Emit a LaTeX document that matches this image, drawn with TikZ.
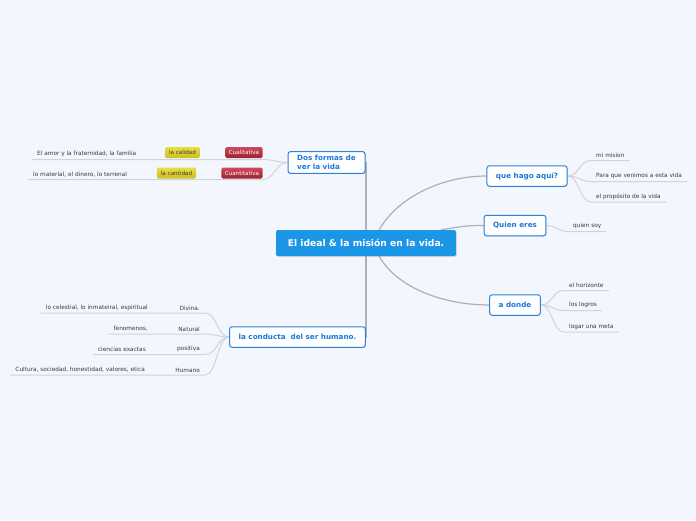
\documentclass[tikz,border=0pt]{standalone}
\usepackage{fontspec}
\setmainfont{DejaVu Sans}
\usepackage{tikz}
\usetikzlibrary{shadows,backgrounds}
\definecolor{bgblue}{HTML}{F3F6FD}
\definecolor{ideablue}{HTML}{1B96E6}
\definecolor{boxblue}{HTML}{2A82DA}
\definecolor{textblue}{HTML}{1A78D6}
\definecolor{linkgray}{HTML}{ABB0BB}
\definecolor{linegray}{HTML}{CFD3DB}
\definecolor{leaftext}{HTML}{3A3A3A}
\definecolor{redtop}{HTML}{CC4A5C}
\definecolor{redbottom}{HTML}{A21F31}
\definecolor{yellowtop}{HTML}{E9DE45}
\definecolor{yellowbottom}{HTML}{CDBE1E}

\begin{document}
\begin{tikzpicture}[x=1pt, y=-1pt,
    central/.style={fill=ideablue, rounded corners=1.5pt, text=white,
        font=\fontsize{9.2}{11}\selectfont\bfseries, minimum width=180pt, minimum height=26pt,
        drop shadow={shadow xshift=0.6pt, shadow yshift=-0.8pt, opacity=0.25}},
    branch/.style={draw=boxblue, line width=1pt, fill=white, rounded corners=2.5pt, text=textblue,
        font=\fontsize{7.2}{9.6}\selectfont\bfseries, inner xsep=9pt, minimum height=20.5pt,
        drop shadow={shadow xshift=0.6pt, shadow yshift=-0.8pt, opacity=0.25}},
    leaf/.style={text=leaftext, font=\fontsize{5.8}{7}\selectfont, inner xsep=5pt, inner ysep=2.5pt},
    redtag/.style={top color=redtop, bottom color=redbottom, text=white,
        rounded corners=1.5pt, font=\fontsize{5.6}{7}\selectfont, inner xsep=3.5pt, minimum height=11pt},
    yellowtag/.style={top color=yellowtop, bottom color=yellowbottom, text=leaftext,
        rounded corners=1.5pt, font=\fontsize{5.6}{7}\selectfont, inner xsep=4pt, minimum height=11pt},
    link/.style={draw=linkgray, line width=1.2pt},
    uline/.style={draw=linegray, line width=1pt}]
    \useasboundingbox (0,0) rectangle (696,520);

    % Central idea
    \node[central] (ideal) at (366,243) {El ideal \& la misión en la vida.};

    % Branches
    \node[branch, align=left, minimum width=77pt] (formas) at (326.5,162.5) {Dos formas de\\ver la vida};
    \node[branch] (aqui) at (527,176) {que hago aquí?};
    \node[branch] (quien) at (515,225.5) {Quien eres};
    \node[branch] (donde) at (515,305) {a donde};
    \node[branch] (conducta) at (297.5,337) {la conducta\ \ del ser humano.};

    % Dos formas de ver la vida
    \node[redtag] (cuali) at (244,152.5) {Cualitativa};
    \node[redtag] (cuanti) at (242,173) {Cuantitativa};
    \node[yellowtag] (calidad) at (182.5,152.5) {la calidad};
    \node[yellowtag] (cantidad) at (176.5,173) {la cantidad};
    \node[leaf, anchor=south west] (amor) at (32,159.5) {El amor y la fraternidad, la familia};
    \node[leaf, anchor=south west] (material) at (28,179.5) {lo material, el dinero, lo terrenal};

    % que hago aqui?
    \node[leaf, anchor=south west] (mision) at (591,160.5) {mi mision};
    \node[leaf, anchor=south west] (venimos) at (591,181.5) {Para que venimos a esta vida};
    \node[leaf, anchor=south west] (proposito) at (591,202) {el propósito de la vida};

    % Quien eres
    \node[leaf, anchor=south west] (soy) at (568,231.5) {quien soy};

    % a donde
    \node[leaf, anchor=south west] (horizonte) at (564,290.5) {el horizonte};
    \node[leaf, anchor=south west] (logros) at (564,310.5) {los logros};
    \node[leaf, anchor=south west] (meta) at (564,332) {logar una meta};

    % la conducta del ser humano
    \node[leaf, anchor=south east] (divina) at (205,313) {Divina.};
    \node[leaf, anchor=south east] (natural) at (205,334) {Natural};
    \node[leaf, anchor=south east] (positiva) at (205,354.5) {positiva};
    \node[leaf, anchor=south east] (humano) at (205,375) {Humano};
    \node[leaf, anchor=south east] (celestial) at (153,313) {lo celestial, lo inmateiral, espiritual};
    \node[leaf, anchor=south east] (fenomenos) at (153,334) {fenomenos,};
    \node[leaf, anchor=south east] (exactas) at (151,354.5) {ciencias exactas};
    \node[leaf, anchor=south east] (cultura) at (150,375) {Cultura, sociedad, honestidad, valores, etica};

    \begin{pgfonlayer}{background}
    \fill[bgblue] (0,0) rectangle (696,520);

    % Lines from the centre
    \draw[link] (formas.east) -| (ideal.north);
    \draw[link] (conducta.east) -| (ideal.south);
    \draw[link] (ideal.45) .. controls +(18,-32) and +(-45,0) .. (aqui.west);
    \draw[link] (ideal.10) .. controls +(20,-3) and +(-20,0) .. (quien.west);
    \draw[link] (ideal.-45) .. controls +(18,32) and +(-45,0) .. (donde.west);

    % Lines to the leaves
    \draw[uline] (formas.west) .. controls +(-12,0) and +(12,0) .. (cuali.east |- amor.south) -- (amor.south west);
    \draw[uline] (formas.west) .. controls +(-12,0) and +(12,0) .. (cuanti.east |- material.south) -- (material.south west);
    \foreach \leaf in {mision, venimos, proposito}
        \draw[uline] (aqui.east) .. controls +(12,0) and +(-12,0) .. (\leaf.south west) -- (\leaf.south east);
    \draw[uline] (quien.east) .. controls +(10,0) and +(-10,0) .. (soy.south west) -- (soy.south east);
    \foreach \leaf in {horizonte, logros, meta}
        \draw[uline] (donde.east) .. controls +(12,0) and +(-12,0) .. (\leaf.south west) -- (\leaf.south east);
    \draw[uline] (conducta.west) .. controls +(-12,0) and +(12,0) .. (divina.south east) -- (celestial.south west);
    \draw[uline] (conducta.west) .. controls +(-12,0) and +(12,0) .. (natural.south east) -- (fenomenos.south west);
    \draw[uline] (conducta.west) .. controls +(-12,0) and +(12,0) .. (positiva.south east) -- (exactas.south west);
    \draw[uline] (conducta.west) .. controls +(-12,0) and +(12,0) .. (humano.south east) -- (cultura.south west);
    \end{pgfonlayer}
\end{tikzpicture}
\end{document}
